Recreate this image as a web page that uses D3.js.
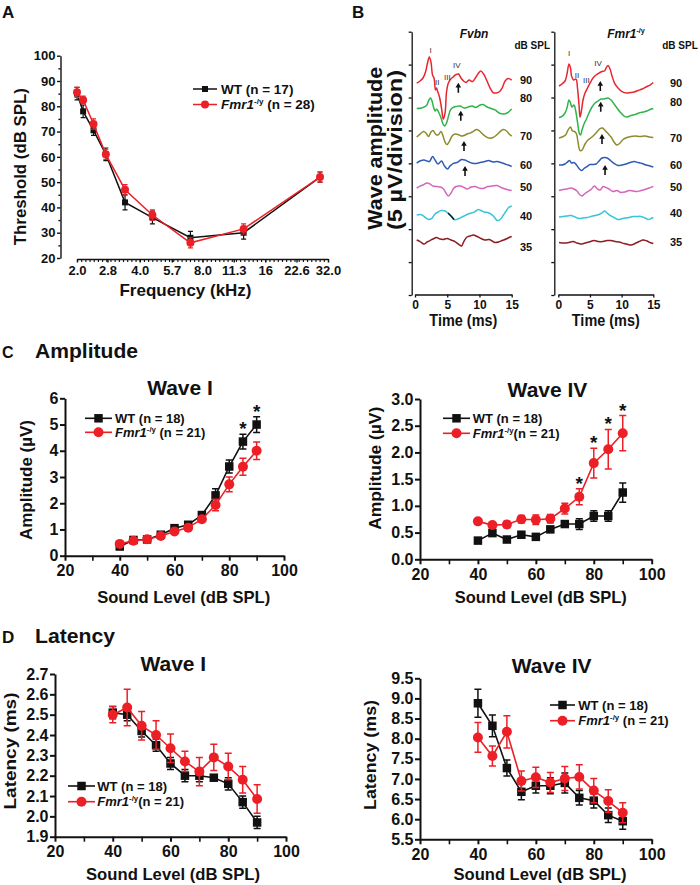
<!DOCTYPE html>
<html>
<head>
<meta charset="utf-8">
<script src="https://cdn.jsdelivr.net/npm/d3@7"></script>
<style>
  body { margin: 0; background: #fff; }
  svg { display: block; }
</style>
</head>
<body>
<script>
// ---------------- data ----------------
// Panel A: ABR thresholds
var freqA = [2.0, 2.14, 2.4, 2.75, 3.4, 4.6, 7.0, 12.6, 29.3];
var freqTicks = [2.0, 2.8, 4.0, 5.7, 8.0, 11.3, 16, 22.6, 32.0];
var freqTickLabels = ["2.0", "2.8", "4.0", "5.7", "8.0", "11.3", "16", "22.6", "32.0"];
var thrWT = [85, 78, 70.5, 61, 42, 36, 28, 30, 52];
var thrWTse = [2.5, 2.5, 2, 2.5, 3, 2.5, 2.5, 2.5, 2];
var thrKO = [85.5, 82.5, 73, 61, 47, 37, 26, 31.5, 52];
var thrKOse = [2, 1.5, 2, 2, 2, 2, 2, 2, 2];

// Panels C/D: sound levels
var levels = [40, 45, 50, 55, 60, 65, 70, 75, 80, 85, 90];

var ampIWT = [0.35, 0.6, 0.62, 0.8, 1.05, 1.18, 1.55, 2.3, 3.4, 4.35, 5.0];
var ampIWTse = [0.05, 0.05, 0.05, 0.06, 0.07, 0.08, 0.1, 0.25, 0.25, 0.28, 0.3];
var ampIKO = [0.45, 0.57, 0.63, 0.75, 0.92, 1.07, 1.39, 1.93, 2.72, 3.39, 4.0];
var ampIKOse = [0.05, 0.05, 0.05, 0.06, 0.08, 0.08, 0.1, 0.22, 0.28, 0.32, 0.33];
var sigAmpI = [85, 90];

var ampIVWT = [0.35, 0.49, 0.37, 0.46, 0.42, 0.56, 0.66, 0.66, 0.81, 0.81, 1.25];
var ampIVWTse = [0.03, 0.04, 0.03, 0.04, 0.04, 0.05, 0.06, 0.1, 0.1, 0.1, 0.18];
var ampIVKO = [0.71, 0.64, 0.65, 0.75, 0.74, 0.76, 0.95, 1.17, 1.8, 2.06, 2.36];
var ampIVKOse = [0.05, 0.05, 0.06, 0.07, 0.09, 0.08, 0.1, 0.15, 0.28, 0.37, 0.33];
var sigAmpIV = [75, 80, 85, 90];

var latIWT = [2.51, 2.50, 2.42, 2.35, 2.26, 2.20, 2.20, 2.19, 2.16, 2.07, 1.97];
var latIWTse = [0.03, 0.03, 0.03, 0.03, 0.03, 0.03, 0.03, 0.01, 0.03, 0.03, 0.03];
var latIKO = [2.50, 2.535, 2.445, 2.40, 2.335, 2.27, 2.22, 2.29, 2.245, 2.18, 2.085];
var latIKOse = [0.04, 0.09, 0.07, 0.07, 0.07, 0.05, 0.07, 0.065, 0.065, 0.065, 0.07];

var latIVWT = [8.88, 8.32, 7.27, 6.68, 6.83, 6.83, 6.9, 6.53, 6.46, 6.1, 5.95];
var latIVWTse = [0.35, 0.27, 0.2, 0.2, 0.18, 0.2, 0.25, 0.18, 0.18, 0.18, 0.2];
var latIVKO = [8.03, 7.57, 8.17, 6.95, 7.04, 6.91, 7.01, 7.05, 6.71, 6.45, 6.16];
var latIVKOse = [0.37, 0.25, 0.4, 0.25, 0.25, 0.25, 0.3, 0.3, 0.3, 0.28, 0.25];

// Panel B: example ABR traces, [time ms, µV relative to trace baseline]
var dbLevels = ["90", "80", "70", "60", "50", "40", "35"];
var traceColors = ["#e8262d", "#2fb44a", "#8e8b2c", "#2f5bb5", "#d466b8", "#36c5d9", "#8c1d22"];
var timeTicks = [0, 5, 10, 15];

var fvbnOffset = [32.66, 28.41, 24.30, 20.20, 16.25, 12.15, 8.35];
var fvbnLabelPos = [32.66, 29.88, 24.15, 19.75, 16.45, 12.0, 7.3];
var fvbnTraces = [
  [[0.26,-0.46],[0.78,-0.15],[1.24,0.30],[1.63,1.22],[1.94,2.58],[2.22,3.50],[2.48,2.73],[2.72,0.76],[2.95,0.30],[3.18,-1.52],[3.34,-1.22],[3.49,-1.67],[3.80,-2.58],[4.11,-4.26],[4.39,-5.93],[4.66,-5.02],[4.89,-1.82],[5.12,-0.61],[5.43,0],[5.90,0.46],[6.37,0.84],[6.75,0.91],[7.14,0.30],[7.53,-0.15],[7.92,-0.38],[8.39,0],[8.93,-0.23],[9.47,0.46],[9.86,1.06],[10.2,1.37],[10.64,0.91],[11.1,0],[11.65,-1.22],[12.11,-1.90],[12.58,-1.98],[13.04,-1.82],[13.51,-1.22],[13.98,-0.15],[14.44,0.23],[15,0]],
  [[0.26,-0.08],[1.01,0],[1.79,0.38],[2.17,1.22],[2.41,1.52],[2.64,1.06],[2.87,0.15],[3.11,-0.46],[3.34,-0.15],[3.65,-0.61],[4.04,-1.52],[4.35,-2.43],[4.58,-2.74],[4.89,-2.28],[5.20,-1.22],[5.51,-0.30],[5.90,0.08],[6.37,0.23],[6.99,0.30],[7.61,0],[8.24,0.15],[8.85,0.30],[9.47,0.08],[10.09,0.46],[10.56,0.53],[11.18,0.15],[11.8,-0.08],[12.42,-0.30],[13.04,-0.76],[13.66,-0.91],[14.29,-0.76],[15,-0.15]],
  [[0.26,-0.30],[0.78,0.15],[1.32,0.53],[1.71,0.30],[2.10,-0.23],[2.48,0.46],[2.80,0.68],[3.18,0.15],[3.57,0],[4.04,0.53],[4.35,-0.15],[4.66,-1.06],[4.97,-1.44],[5.36,-0.91],[5.75,-0.15],[6.21,0.15],[6.68,0.08],[7.14,-0.15],[7.61,-0.08],[8.07,0.15],[8.54,0.30],[9.01,0.53],[9.55,0.84],[9.94,0.68],[10.4,0.23],[10.87,-0.15],[11.49,-0.46],[12.11,-0.38],[12.73,0.08],[13.28,0.61],[13.74,0.84],[14.21,0.61],[14.6,0.15],[15,-0.15]],
  [[0.26,-0.15],[0.78,0.15],[1.40,0.30],[1.86,0.15],[2.25,0.08],[2.72,0.84],[3.11,0.30],[3.57,-0.30],[4.11,0.15],[4.58,-0.61],[5.05,-1.06],[5.43,-0.61],[5.90,-0.23],[6.52,-0.08],[7.22,0.38],[7.76,0.30],[8.39,0],[9.16,-0.23],[10.09,-0.08],[10.87,0.08],[11.41,0.23],[12.11,0],[12.73,0.08],[13.35,-0.08],[13.98,-0.30],[14.44,-0.46],[15,-0.68]],
  [[0.26,0],[0.78,0.30],[1.24,0.46],[1.86,0.76],[2.33,0.61],[2.80,0.30],[3.42,0.23],[3.96,0.15],[4.43,-0.15],[4.81,-0.76],[5.20,-1.22],[5.59,-0.76],[5.98,-0.08],[6.37,0.23],[6.99,0.30],[7.61,0.08],[8.07,-0.15],[8.70,0.15],[9.32,0.23],[9.94,0],[10.56,-0.08],[11.26,0.23],[11.96,0.30],[12.73,0.38],[13.35,0.08],[13.98,-0.15],[14.52,-0.30],[15,-0.38]],
  [[0.26,0],[0.78,0.08],[1.24,-0.08],[1.71,-0.46],[2.17,-0.68],[2.64,-0.46],[3.11,0.15],[3.57,0.46],[4.11,0.68],[4.66,0.61],[5.12,0.30],[5.59,-0.15],[6.06,-0.68],[6.44,-0.68],[6.83,-0.53],[7.30,-0.30],[7.76,-0.08],[8.23,0.15],[8.77,0.30],[9.32,0.53],[9.78,0.84],[10.25,0.68],[10.71,0.46],[11.26,0.38],[11.8,0.15],[12.27,-0.30],[12.78,-0.84],[13.2,-0.68],[13.66,-0.08],[14.13,0.61],[14.52,1.14],[15,1.37]],
  [[0.26,0],[0.78,-0.23],[1.40,-0.61],[1.86,-0.30],[2.33,-0.08],[2.80,0.15],[3.34,0.38],[3.88,0.15],[4.35,0.08],[4.97,0.23],[5.59,0],[6.21,-0.23],[6.83,-0.68],[7.22,-0.91],[7.61,-0.15],[8.07,0.46],[8.54,0.61],[9.08,0.76],[9.63,0.53],[10.25,0.23],[10.87,0],[11.49,0.08],[11.96,-0.15],[12.42,-0.38],[12.97,-0.30],[13.51,-0.08],[14.13,0.15],[14.6,0.38],[15,0.53]]
];
var fvbnMarked = [5.12, 6.21];  // short black stretch on the 40 dB trace
var fvbnArrows = [[6.72, -0.4], [7.1, -0.41], [7.6, -0.91], [7.76, -0.61]];
var fvbnPeaks = [["I", 2.44, 4.56], ["II", 3.46, -0.35], ["III", 5.02, 0.41], ["IV", 6.48, 2.28]];

var fmrOffset = [31.90, 27.80, 24.00, 19.90, 15.95, 11.85, 7.97];
var fmrLabelPos = [32.2, 29.3, 23.85, 19.75, 16.4, 12.45, 8.05];
var fmrTraces = [
  [[0.11,-0.15],[0.58,0.15],[1.06,0.61],[1.37,1.67],[1.69,3.19],[1.93,2.58],[2.09,1.37],[2.40,0.76],[2.80,0.91],[3.03,-0.46],[3.27,-3.04],[3.43,-4.86],[3.67,-3.80],[3.90,-2.28],[4.22,-1.22],[4.61,-0.46],[5.01,0.30],[5.48,1.06],[5.96,1.52],[6.43,1.82],[6.90,2.05],[7.30,2.13],[7.54,2.58],[7.85,2.96],[8.17,2.43],[8.48,1.37],[8.88,0.30],[9.43,-0.46],[10.06,-0.99],[10.77,-1.22],[11.41,-1.14],[11.96,-1.06],[12.59,-0.84],[13.22,-0.61],[13.85,-0.30],[14.49,0],[15,0.38]],
  [[0.11,-0.84],[0.58,-0.68],[1.06,-0.15],[1.37,0.61],[1.69,1.82],[1.93,1.37],[2.16,0.76],[2.48,1.06],[2.72,0.30],[3.03,-1.52],[3.35,-3.34],[3.51,-3.50],[3.74,-2.74],[4.06,-1.82],[4.45,-1.06],[4.85,-0.15],[5.32,0.76],[5.80,1.37],[6.27,1.67],[6.75,1.98],[7.22,1.98],[7.85,2.13],[8.33,1.82],[8.80,1.22],[9.27,0.61],[9.75,0],[10.38,-0.61],[10.85,-0.76],[11.48,-0.53],[12.12,-0.38],[12.75,-0.15],[13.38,0],[14.01,0.15],[14.49,0.38],[15,0.53]],
  [[0.11,-0.15],[0.58,0],[1.14,0.30],[1.53,1.06],[1.93,1.52],[2.24,0.91],[2.56,0.84],[2.88,0.46],[3.11,-0.76],[3.43,-2.05],[3.74,-1.98],[4.22,-1.06],[4.69,-0.46],[5.32,0],[5.96,0.61],[6.59,1.29],[6.98,1.37],[7.38,0.99],[7.85,0.53],[8.33,0],[8.80,-0.76],[9.27,-1.22],[9.75,-0.91],[10.22,-0.38],[10.85,-0.08],[11.48,0.08],[12.12,0.15],[12.91,0.08],[13.7,0.15],[14.33,0],[15,-0.08]],
  [[0.11,-0.15],[0.58,-0.15],[1.06,0],[1.45,0.30],[1.77,0.53],[2.09,0.15],[2.48,0.23],[2.88,-0.15],[3.27,-0.68],[3.67,-0.99],[4.06,-0.68],[4.53,-0.38],[5.01,-0.08],[5.48,-0.08],[5.96,0],[6.43,0.46],[6.90,0.91],[7.38,0.99],[7.85,0.84],[8.33,0.46],[8.80,0.08],[9.43,-0.23],[10.06,-0.15],[10.70,0],[11.33,0.23],[11.96,0.38],[12.59,0.23],[13.22,0.08],[13.85,-0.15],[14.49,-0.30],[15,-0.46]],
  [[0.11,-0.08],[0.74,0.08],[1.37,0.15],[2.01,0.30],[2.48,0.15],[2.95,-0.15],[3.43,-0.76],[3.74,-0.91],[4.22,-0.53],[4.69,-0.23],[5.17,0.08],[5.72,0.61],[6.11,0.23],[6.59,0],[7.06,0.53],[7.54,0.38],[8.01,0.15],[8.64,-0.23],[9.27,-0.08],[9.90,-0.38],[10.54,-0.30],[11.17,-0.08],[11.80,-0.15],[12.43,-0.23],[13.07,-0.08],[13.7,0.08],[14.33,0.30],[15,0.53]],
  [[0.11,0],[0.74,0.08],[1.37,0.15],[2.01,0.23],[2.64,0],[3.27,-0.23],[3.90,-0.15],[4.53,-0.08],[5.17,0.08],[5.80,0.23],[6.43,0.38],[6.90,0.61],[7.30,0.91],[7.69,0.61],[8.17,0.23],[8.80,-0.08],[9.43,-0.38],[9.90,-0.30],[10.54,-0.15],[11.17,-0.08],[11.80,0.08],[12.43,0.08],[13.07,0.08],[13.7,-0.15],[14.17,-0.38],[14.65,-0.23],[15,-0.08]],
  [[0.11,0],[0.90,-0.08],[1.69,0],[2.32,0.15],[2.95,-0.08],[3.59,-0.23],[4.22,-0.08],[4.85,0.08],[5.64,0.30],[6.27,0.15],[7.06,0.15],[7.69,0.30],[8.33,0.30],[8.96,0.15],[9.59,0.08],[10.38,-0.15],[11.01,-0.30],[11.48,-0.38],[12.12,-0.15],[12.75,0.15],[13.38,0.38],[14.01,0.23],[14.49,0],[15,-0.15]]
];
var fmrArrows = [[6.63, 0.6], [6.7, 1.57], [6.9, 0.46], [7.38, -0.15]];
var fmrPeaks = [["I", 1.69, 4.82], ["II", 2.95, 1.52], ["III", 4.42, 0.76], ["IV", 6.27, 3.30]];

// ---------------- drawing ----------------
var FONT = "'Liberation Sans', Arial, Helvetica, sans-serif";
var INK = "#111";
var RED = "#ec1f27";

var svg = d3.select("body").append("svg")
  .attr("width", 700).attr("height", 885)
  .style("font-family", FONT).style("font-weight", "bold");

function txt(g, x, y, s, size, o) {
  o = o || {};
  var t = g.append("text")
    .attr("x", x).attr("y", y)
    .attr("font-size", size)
    .attr("text-anchor", o.anchor || "start")
    .attr("fill", o.fill || INK)
    .text(s);
  if (o.rotate) t.attr("transform", "rotate(-90," + x + "," + y + ")");
  if (o.dy) t.attr("dy", o.dy);
  if (o.len) t.attr("textLength", o.len).attr("lengthAdjust", "spacingAndGlyphs");
  if (o.italic) t.attr("font-style", "italic");
  if (o.weight) t.attr("font-weight", o.weight);
  return t;
}

// text made of parts: {s, i: italic, sup: superscript}
function richText(t, parts, fs) {
  var raised = false;
  parts.forEach(function (p) {
    var ts = t.append("tspan").text(p.s);
    if (p.i) ts.attr("font-style", "italic");
    if (p.sup) {
      ts.attr("font-size", fs * 0.6).attr("dy", -fs * 0.42);
      raised = true;
    } else if (raised) {
      ts.attr("dy", fs * 0.42);
      raised = false;
    }
  });
}

function drawMarks(g, pts, shape, size, color) {
  if (shape === "square") {
    g.selectAll(null).data(pts).join("rect")
      .attr("x", function (d) { return d[0] - size / 2; })
      .attr("y", function (d) { return d[1] - size / 2; })
      .attr("width", size).attr("height", size)
      .attr("fill", color);
  } else {
    g.selectAll(null).data(pts).join("circle")
      .attr("cx", function (d) { return d[0]; })
      .attr("cy", function (d) { return d[1]; })
      .attr("r", size / 2)
      .attr("fill", color);
  }
}

function styleAxis(ag, w, fs) {
  ag.attr("font-family", null).attr("font-size", fs);
  ag.selectAll("path, line").attr("stroke", INK).attr("stroke-width", w);
  ag.selectAll("text").attr("fill", INK).attr("font-weight", "bold");
}

function plotPanel(c) {
  var g = svg.append("g");
  var x = c.x, y = c.y;
  var yAxisX = c.yAxisX !== undefined ? c.yAxisX : x.range()[0];
  var xAxisY = c.xAxisY !== undefined ? c.xAxisY : y.range()[0];

  // axes
  var ya = g.append("g").attr("transform", "translate(" + yAxisX + ",0)")
    .call(d3.axisLeft(y).tickValues(c.yTicks).tickFormat(c.yFmt)
      .tickSize(c.tick).tickSizeOuter(0).tickPadding(c.yPad));
  styleAxis(ya, c.axisW, c.tickFs);
  if (c.yMinor) {
    var ym = g.append("g").attr("transform", "translate(" + yAxisX + ",0)")
      .call(d3.axisLeft(y).tickValues(c.yMinor).tickFormat("").tickSize(c.tick * 0.6).tickSizeOuter(0));
    ym.select(".domain").remove();
    styleAxis(ym, c.axisW, c.tickFs);
  }
  var xa = g.append("g").attr("transform", "translate(0," + xAxisY + ")")
    .call(d3.axisBottom(x).tickValues(c.xTicks).tickFormat(c.xFmt)
      .tickSize(c.tick).tickSizeOuter(0).tickPadding(c.xPad));
  styleAxis(xa, c.axisW, c.tickFs);
  if (c.xMinor) {
    var xm = g.append("g").attr("transform", "translate(0," + xAxisY + ")")
      .call(d3.axisBottom(x).tickValues(c.xMinor).tickFormat("").tickSize(c.minorTick || c.tick).tickSizeOuter(0));
    xm.select(".domain").remove();
    styleAxis(xm, c.axisW * 0.8, c.tickFs);
  }

  // series
  var line = d3.line().x(function (d) { return d[0]; }).y(function (d) { return d[1]; });
  c.series.forEach(function (s) {
    var pts = s.vals.map(function (v, i) { return [x(c.xs[i]), y(v)]; });
    var sg = g.append("g");
    sg.append("path").attr("d", line(pts)).attr("fill", "none")
      .attr("stroke", s.color).attr("stroke-width", c.lineW);
    var eb = s.vals.map(function (v, i) {
      return { x: x(c.xs[i]), lo: y(v - s.se[i]), hi: y(v + s.se[i]) };
    });
    sg.selectAll(null).data(eb).join("path")
      .attr("d", function (d) {
        var h = c.cap / 2;
        return "M" + d.x + "," + d.lo + "V" + d.hi +
          "M" + (d.x - h) + "," + d.hi + "H" + (d.x + h) +
          "M" + (d.x - h) + "," + d.lo + "H" + (d.x + h);
      })
      .attr("fill", "none").attr("stroke", s.color).attr("stroke-width", c.errW);
    drawMarks(sg, pts, s.shape, s.shape === "square" ? c.sq : c.dot, s.color);
  });

  // significance marks
  (c.sig || []).forEach(function (lv) {
    var i = c.xs.indexOf(lv);
    var top = d3.max(c.series, function (s) { return s.vals[i] + s.se[i]; });
    txt(g, x(lv), y(top) + 1, "*", 19, { anchor: "middle" });
  });

  // legend
  c.legend.forEach(function (L, k) {
    var s = c.series[k];
    g.append("line").attr("x1", L.x1).attr("x2", L.x2).attr("y1", L.y).attr("y2", L.y)
      .attr("stroke", s.color).attr("stroke-width", c.lineW);
    drawMarks(g, [[(L.x1 + L.x2) / 2, L.y]], s.shape, s.shape === "square" ? c.sq : c.dot, s.color);
    var t = g.append("text").attr("x", L.tx).attr("y", L.y).attr("dy", "0.36em")
      .attr("font-size", c.legFs).attr("fill", INK);
    richText(t, L.parts, c.legFs);
  });

  // titles
  if (c.title) txt(g, c.title.x, c.title.y, c.title.s, 21, { anchor: "middle" });
  txt(g, c.xTitle.x, c.xTitle.y, c.xTitle.s, 17, { anchor: "middle", len: c.xTitle.len });
  txt(g, c.yTitle.x, c.yTitle.y, c.yTitle.s, 17, { anchor: "middle", rotate: true, dy: "0.36em", len: c.yTitle.len });
  return g;
}

function tracePanel(c) {
  var g = svg.append("g");
  var x = d3.scaleLinear().domain([0, 15]).range(c.xr);
  var y = d3.scaleLinear().domain([0, 40]).range([295, 31.7]);

  var ya = g.append("g").attr("transform", "translate(" + c.yAxisX + ",0)")
    .call(d3.axisLeft(y).tickValues(d3.range(0, 41, 5)).tickFormat("").tickSize(3).tickSizeOuter(0));
  styleAxis(ya, 1.3, 12);
  var xa = g.append("g").attr("transform", "translate(0,294.5)")
    .call(d3.axisBottom(x).tickValues(timeTicks).tickSize(3).tickSizeOuter(0).tickPadding(3));
  styleAxis(xa, 1.3, 12);

  var line = d3.line().curve(d3.curveCatmullRom.alpha(0.5))
    .x(function (d) { return x(d[0]); }).y(function (d) { return y(d[1]); });

  c.traces.forEach(function (tr, i) {
    var pts = tr.map(function (p) { return [p[0], p[1] + c.offsets[i]]; });
    g.append("path").attr("d", line(pts)).attr("fill", "none")
      .attr("stroke", traceColors[i]).attr("stroke-width", 1.5)
      .attr("stroke-linejoin", "round");
    if (c.marked && i === 5) {
      var seg = pts.filter(function (p) { return p[0] >= c.marked[0] && p[0] <= c.marked[1]; });
      g.append("path").attr("d", d3.line().x(function (d) { return x(d[0]); }).y(function (d) { return y(d[1]); })(seg))
        .attr("fill", "none").attr("stroke", INK).attr("stroke-width", 1.4);
    }
    txt(g, c.labelX, y(c.labelPos[i]), dbLevels[i], 11, { anchor: "middle", dy: "0.36em" });
  });

  // arrows under wave IV
  c.arrows.forEach(function (a, i) {
    var ax = x(a[0]), ay = y(a[1] + c.offsets[i]);
    g.append("path")
      .attr("transform", "translate(" + ax + "," + ay + ")")
      .attr("d", "M0,0L-2.8,4.8L-0.8,4.8L-0.8,10L0.8,10L0.8,4.8L2.8,4.8Z")
      .attr("fill", INK);
  });

  // wave labels on the 90 dB trace
  c.peaks.forEach(function (p) {
    txt(g, x(p[1]), y(p[2] + c.offsets[0]), p[0], 8, { anchor: "middle", dy: "0.36em", fill: "#333", weight: "normal" });
  });

  txt(g, c.dbX, 45, "dB SPL", 10, { anchor: "middle", dy: "0.36em" });
  var tt = g.append("text").attr("x", c.nameX).attr("y", 38).attr("font-size", 12)
    .attr("text-anchor", "middle").attr("fill", INK);
  richText(tt, c.name, 12);
  txt(g, (c.xr[0] + c.xr[1]) / 2, 326, "Time (ms)", 17, { anchor: "middle", len: 68 });
}

// ----- panel letters and section headings -----
txt(svg, 2, 18, "A", 17);
txt(svg, 352, 18, "B", 17);
txt(svg, 2, 358, "C", 16);
txt(svg, 35, 358, "Amplitude", 20, { len: 103 });
txt(svg, 2, 643, "D", 17);
txt(svg, 35, 643, "Latency", 21, { len: 80 });

// ----- Panel A -----
var minorFreq = d3.range(0, 61).map(function (k) { return 2 * Math.pow(2, k / 15); });
plotPanel({
  x: d3.scaleLog().base(2).domain([2, 32]).range([77, 328]),
  y: d3.scaleLinear().domain([20, 100]).range([258, 55.7]),
  yAxisX: 60.5, xAxisY: 259,
  xs: freqA,
  xTicks: freqTicks, xFmt: function (d, i) { return freqTickLabels[i]; }, xMinor: minorFreq,
  yTicks: [20, 30, 40, 50, 60, 70, 80, 90, 100], yFmt: d3.format("d"),
  yMinor: [25, 35, 45, 55, 65, 75, 85, 95],
  tick: 3.5, minorTick: 3, xPad: 3, yPad: 1.5, tickFs: 13, axisW: 1.4,
  lineW: 1.5, errW: 1.2, cap: 5, sq: 6, dot: 8,
  series: [
    { vals: thrWT, se: thrWTse, color: INK, shape: "square" },
    { vals: thrKO, se: thrKOse, color: RED, shape: "circle" }
  ],
  legend: [
    { x1: 193, x2: 217, y: 89, tx: 221, parts: [{ s: "WT (n = 17)" }] },
    { x1: 193, x2: 217, y: 104.5, tx: 221, parts: [{ s: "Fmr1", i: true }, { s: "-/y", sup: true }, { s: " (n = 28)" }] }
  ],
  legFs: 13.5,
  xTitle: { x: 185.5, y: 296, s: "Frequency (kHz)", len: 132 },
  yTitle: { x: 19.5, y: 166.7, s: "Threshold (dB SPL)", len: 157 }
});

// ----- Panel B -----
txt(svg, 374, 148.3, "Wave amplitude", 21, { anchor: "middle", rotate: true, dy: "0.36em", len: 163 });
txt(svg, 394.5, 150, "(5 \u00b5V/division)", 20, { anchor: "middle", rotate: true, dy: "0.36em", len: 160 });
tracePanel({
  xr: [415, 511.7], yAxisX: 411.7,
  traces: fvbnTraces, offsets: fvbnOffset, labelPos: fvbnLabelPos, labelX: 526,
  arrows: fvbnArrows, peaks: fvbnPeaks, marked: fvbnMarked,
  dbX: 532.3, nameX: 474, name: [{ s: "Fvbn", i: true }]
});
tracePanel({
  xr: [558.3, 653.3], yAxisX: 554.3,
  traces: fmrTraces, offsets: fmrOffset, labelPos: fmrLabelPos, labelX: 676,
  arrows: fmrArrows, peaks: fmrPeaks, marked: null,
  dbX: 680, nameX: 626, name: [{ s: "Fmr1", i: true }, { s: "-/y", sup: true }]
});

// ----- shared style for C and D -----
function levelPanel(o) {
  return plotPanel(Object.assign({
    xs: levels,
    xTicks: [20, 40, 60, 80, 100], xFmt: d3.format("d"), xMinor: [30, 50, 70, 90],
    tick: 5, minorTick: 5, xPad: 4, yPad: 1.5, tickFs: 16, axisW: 2,
    lineW: 1.6, errW: 1.5, cap: 7, sq: 8.5, dot: 10, legFs: 13
  }, o));
}

// C: amplitude, wave I
levelPanel({
  x: d3.scaleLinear().domain([20, 100]).range([65, 284]),
  y: d3.scaleLinear().domain([0, 6]).range([555.7, 398.3]),
  yTicks: [0, 1, 2, 3, 4, 5, 6], yFmt: d3.format("d"),
  series: [
    { vals: ampIWT, se: ampIWTse, color: INK, shape: "square" },
    { vals: ampIKO, se: ampIKOse, color: RED, shape: "circle" }
  ],
  sig: sigAmpI,
  legend: [
    { x1: 85, x2: 112, y: 418.3, tx: 115, parts: [{ s: "WT (n = 18)" }] },
    { x1: 85, x2: 112, y: 432.3, tx: 115, parts: [{ s: "Fmr1", i: true }, { s: "-/y", sup: true }, { s: "  (n = 21)" }] }
  ],
  title: { x: 180, y: 395, s: "Wave I" },
  xTitle: { x: 183.7, y: 603, s: "Sound Level (dB SPL)", len: 173 },
  yTitle: { x: 25.5, y: 480, s: "Amplitude (\u00b5V)", len: 120 }
});

// C: amplitude, wave IV
levelPanel({
  x: d3.scaleLinear().domain([20, 100]).range([420, 651.7]),
  y: d3.scaleLinear().domain([0, 3]).range([559.3, 399]),
  yTicks: [0, 0.5, 1, 1.5, 2, 2.5, 3], yFmt: d3.format(".1f"),
  series: [
    { vals: ampIVWT, se: ampIVWTse, color: INK, shape: "square" },
    { vals: ampIVKO, se: ampIVKOse, color: RED, shape: "circle" }
  ],
  sig: sigAmpIV,
  legend: [
    { x1: 443, x2: 470, y: 418.3, tx: 472.7, parts: [{ s: "WT (n = 18)" }] },
    { x1: 443, x2: 470, y: 433.3, tx: 472.7, parts: [{ s: "Fmr1", i: true }, { s: "-/y", sup: true }, { s: "(n = 21)" }] }
  ],
  title: { x: 547.5, y: 396.7, s: "Wave IV" },
  xTitle: { x: 540.8, y: 603, s: "Sound Level (dB SPL)", len: 172 },
  yTitle: { x: 375, y: 468.3, s: "Amplitude (\u00b5V)", len: 123 }
});

// D: latency, wave I
levelPanel({
  x: d3.scaleLinear().domain([20, 100]).range([55, 286]),
  y: d3.scaleLinear().domain([1.9, 2.7]).range([836.7, 674]),
  yTicks: [1.9, 2.0, 2.1, 2.2, 2.3, 2.4, 2.5, 2.6, 2.7], yFmt: d3.format(".1f"),
  series: [
    { vals: latIWT, se: latIWTse, color: INK, shape: "square" },
    { vals: latIKO, se: latIKOse, color: RED, shape: "circle" }
  ],
  legend: [
    { x1: 68, x2: 95, y: 786, tx: 97.3, parts: [{ s: "WT (n = 18)" }] },
    { x1: 68, x2: 95, y: 801.7, tx: 97.3, parts: [{ s: "Fmr1", i: true }, { s: "-/y", sup: true }, { s: "(n = 21)" }] }
  ],
  title: { x: 173.3, y: 671, s: "Wave I" },
  xTitle: { x: 173, y: 880, s: "Sound Level (dB SPL)", len: 174 },
  yTitle: { x: 9.5, y: 751, s: "Latency (ms)", len: 117 }
});

// D: latency, wave IV
levelPanel({
  x: d3.scaleLinear().domain([20, 100]).range([420, 651.7]),
  y: d3.scaleLinear().domain([5.5, 9.5]).range([839.3, 678.3]),
  yTicks: [5.5, 6, 6.5, 7, 7.5, 8, 8.5, 9, 9.5], yFmt: d3.format(".1f"),
  series: [
    { vals: latIVWT, se: latIVWTse, color: INK, shape: "square" },
    { vals: latIVKO, se: latIVKOse, color: RED, shape: "circle" }
  ],
  legend: [
    { x1: 550, x2: 575, y: 705, tx: 578.3, parts: [{ s: "WT (n = 18)" }] },
    { x1: 550, x2: 575, y: 720.7, tx: 578.3, parts: [{ s: "Fmr1", i: true }, { s: "-/y", sup: true }, { s: " (n = 21)" }] }
  ],
  title: { x: 551.7, y: 673.3, s: "Wave IV" },
  xTitle: { x: 540, y: 880, s: "Sound Level (dB SPL)", len: 173 },
  yTitle: { x: 370, y: 755, s: "Latency (ms)", len: 110 }
});
</script>
</body>
</html>
